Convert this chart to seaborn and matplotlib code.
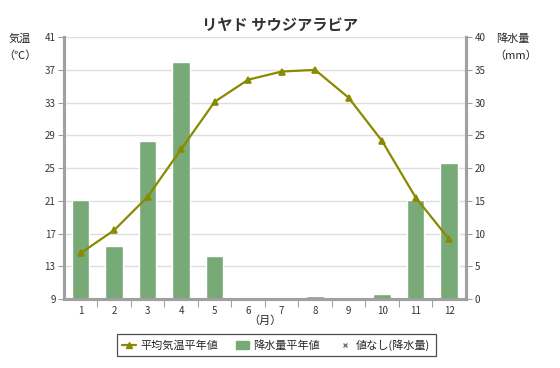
import numpy as np
import pandas as pd
import matplotlib.pyplot as plt
import seaborn as sns
from matplotlib.lines import Line2D
from matplotlib.patches import Patch

# Riyadh climate normals
months = ["1", "2", "3", "4", "5", "6", "7", "8", "9", "10", "11", "12"]
temp_avg = [14.6, 17.4, 21.5, 27.3, 33.1, 35.8, 36.8, 37.0, 33.6, 28.3, 21.4, 16.3]
precip = [15.1, 8.1, 24.1, 36.2, 6.6, 0.0, 0.0, 0.5, 0.0, 0.8, 15.1, 20.8]

temp_ticks = [9, 13, 17, 21, 25, 29, 33, 37, 41]
precip_ticks = [0, 5, 10, 15, 20, 25, 30, 35, 40]

BAR_COLOR = "#78aa78"
LINE_COLOR = "#8a8a00"
AXIS_GRAY = "#a0a0a0"

sns.set_theme(style="white")
plt.rcParams["font.family"] = ["Noto Sans CJK JP", "DejaVu Sans"]

df = pd.DataFrame({"month": months, "temp": temp_avg, "precip": precip})

fig = plt.figure(figsize=(5.6, 3.68), dpi=100)
ax = fig.add_axes([0.114, 0.1875, 0.718, 0.7115])

# precipitation bars (right axis)
sns.barplot(data=df, x="month", y="precip", color=BAR_COLOR, saturation=1,
            width=0.52, ax=ax, zorder=2)
ax.set_ylim(0, 40)
ax.set_yticks(precip_ticks)
ax.set_ylabel("")
ax.set_xlabel("")
ax.grid(axis="y", color="#dedede", linewidth=1, zorder=0)
ax.set_axisbelow(True)

# temperature line (left axis)
ax2 = ax.twinx()
sns.pointplot(data=df, x="month", y="temp", color=LINE_COLOR, markers="^",
              linestyles="-", ax=ax2, markersize=4, linewidth=1.6)
ax2.set_ylim(9, 41)
ax2.set_yticks(temp_ticks)
ax2.set_ylabel("")
ax2.set_xlabel("")
ax2.grid(False)
ax.set_xlim(-0.5, 11.5)

# swap sides: temperature on the left, precipitation on the right
ax.yaxis.tick_right()
ax2.yaxis.tick_left()

for a in (ax, ax2):
    a.spines["top"].set_visible(False)
    for s in ("left", "right", "bottom"):
        a.spines[s].set_color(AXIS_GRAY)
        a.spines[s].set_linewidth(2.2)
    a.tick_params(axis="y", labelsize=7, colors="#333333", length=4,
                  width=0.8, color=AXIS_GRAY, pad=2)

ax.set_xticks(np.arange(12))
ax.set_xticklabels(months)
ax.set_xticks(np.arange(0.5, 11, 1), minor=True)
ax.tick_params(axis="x", which="major", length=0, labelsize=7,
               colors="#333333", pad=5)
ax.tick_params(axis="x", which="minor", bottom=True, length=6, width=0.8,
               color=AXIS_GRAY)

fig.text(0.036, 0.895, "気温", fontsize=8, ha="center", va="center")
fig.text(0.036, 0.85, "（℃）", fontsize=8, ha="center", va="center")
fig.text(0.915, 0.895, "降水量", fontsize=8, ha="center", va="center")
fig.text(0.92, 0.85, "（mm）", fontsize=8, ha="center", va="center")
fig.text(0.474, 0.128, "（月）", fontsize=8, ha="center", va="center")

fig.suptitle("リヤド サウジアラビア", x=0.5, y=0.955, fontsize=11,
             fontweight="bold", color="#333333")

handles = [
    Line2D([0], [0], color=LINE_COLOR, marker="^", markersize=4, linewidth=1.6),
    Patch(facecolor=BAR_COLOR, edgecolor=BAR_COLOR),
    Line2D([0], [0], color="#777777", marker="x", markersize=3, linestyle="none"),
]
labels = ["平均気温平年値", "降水量平年値", "値なし(降水量)"]
leg = fig.legend(handles, labels, loc="center", bbox_to_anchor=(0.493, 0.0625),
                 ncol=3, fontsize=8, frameon=True, fancybox=False,
                 edgecolor="#222222", handlelength=1.2, handletextpad=0.4,
                 columnspacing=1.6, borderpad=0.5)
leg.get_frame().set_linewidth(0.9)

plt.savefig("out.png", dpi=100)
